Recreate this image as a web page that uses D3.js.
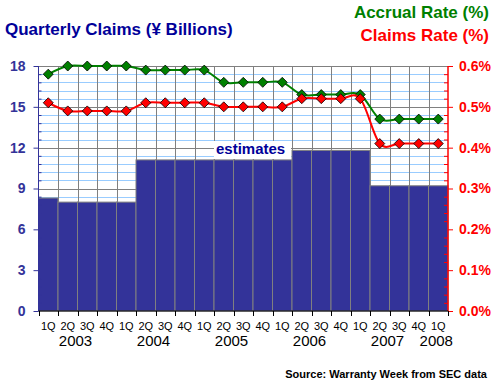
<html>
<head>
<script src="https://d3js.org/d3.v7.min.js"></script>
<style>
  body { margin: 0; background: #fff; }
  text { font-family: Arial, "Liberation Sans", sans-serif; }
</style>
</head>
<body>
<script>
// quarters 1Q2003 .. 1Q2008
const quarters = ["1Q","2Q","3Q","4Q","1Q","2Q","3Q","4Q","1Q","2Q","3Q","4Q","1Q","2Q","3Q","4Q","1Q","2Q","3Q","4Q","1Q"];
const years = ["2003","2004","2005","2006","2007","2008"];
const claims = [8.3,8.0,8.0,8.0,8.0,11.1,11.1,11.1,11.1,11.1,11.1,11.1,11.1,11.8,11.8,11.8,11.8,9.2,9.2,9.2,9.2];
const accrualRate = [0.58,0.60,0.60,0.60,0.60,0.59,0.59,0.59,0.59,0.56,0.56,0.56,0.56,0.53,0.53,0.53,0.53,0.47,0.47,0.47,0.47];
const claimsRate = [0.51,0.49,0.49,0.49,0.49,0.51,0.51,0.51,0.51,0.50,0.50,0.50,0.50,0.52,0.52,0.52,0.52,0.41,0.41,0.41,0.41];
const leftTicks = [0,3,6,9,12,15,18];
const rightTicks = [0,0.1,0.2,0.3,0.4,0.5,0.6];

const W = 500, H = 385;
const plot = {left: 38.5, right: 448, top: 66, bottom: 311};

const svg = d3.select("body").append("svg").attr("width", W).attr("height", H);

const idx = quarters.map((q, i) => i);
const x = d3.scaleBand().domain(idx).range([plot.left, plot.right]).padding(0);
const yL = d3.scaleLinear().domain([0, 18]).range([plot.bottom, plot.top]);
const yR = d3.scaleLinear().domain([0, 0.6]).range([plot.bottom, plot.top]);

// horizontal gridlines: minor light blue, major grey
const minor = d3.range(0, 31).map(d => d * 0.6).filter(d => Math.round(d * 10) % 30 !== 0);
svg.append("g").selectAll("line").data(minor).join("line")
  .attr("x1", plot.left).attr("x2", plot.right)
  .attr("y1", d => Math.round(yL(d)) + 0.5).attr("y2", d => Math.round(yL(d)) + 0.5)
  .attr("stroke", "#99ccff");
svg.append("g").selectAll("line").data(leftTicks.slice(1)).join("line")
  .attr("x1", plot.left).attr("x2", plot.right)
  .attr("y1", d => Math.round(yL(d)) + 0.5).attr("y2", d => Math.round(yL(d)) + 0.5)
  .attr("stroke", "#808080");
// vertical gridlines
svg.append("g").selectAll("line").data(idx.slice(1)).join("line")
  .attr("x1", d => Math.round(x(d)) + 0.5).attr("x2", d => Math.round(x(d)) + 0.5)
  .attr("y1", plot.top).attr("y2", plot.bottom)
  .attr("stroke", "#808080");

// bars
svg.append("g").selectAll("rect").data(claims).join("rect")
  .attr("x", (d, i) => x(i))
  .attr("y", d => yL(d))
  .attr("width", x.bandwidth())
  .attr("height", d => plot.bottom - yL(d))
  .attr("fill", "#333399")
  .attr("stroke", "#808080")
  .attr("stroke-width", 1);

// estimates label
svg.append("rect").attr("x", 214).attr("y", 141).attr("width", 77).attr("height", 18).attr("fill", "#fff");
svg.append("text").attr("x", 216).attr("y", 153.5).text("estimates")
  .attr("font-size", 15).attr("font-weight", "bold").attr("fill", "#000099");

// left axis
const gl = svg.append("g").attr("transform", `translate(${plot.left},0)`);
gl.call(d3.axisLeft(yL).tickValues(leftTicks).tickSize(5).tickPadding(8).tickFormat(d3.format("d")));
gl.append("g").call(d3.axisLeft(yL).tickValues(minor).tickSize(-3).tickFormat(""));
gl.selectAll("path,line").attr("stroke", "#333399");
gl.selectAll("path").attr("d", `M0,${plot.top}V${plot.bottom}`);
gl.selectAll("text").attr("fill", "#333399").attr("font-size", 14).attr("font-weight", "bold")
  .attr("font-family", "Arial, 'Liberation Sans', sans-serif");

// right axis
const gr = svg.append("g").attr("transform", `translate(${plot.right},0)`);
gr.call(d3.axisRight(yR).tickValues(rightTicks).tickSize(5).tickPadding(6).tickFormat(d => d.toFixed(1) + "%"));
gr.append("g").call(d3.axisRight(yR).tickValues(minor.map(d => d / 30)).tickSize(-4).tickFormat(""));
gr.selectAll("path,line").attr("stroke", "#ff0000");
gr.selectAll("path").attr("d", `M0,${plot.top}V${plot.bottom}`);
gr.selectAll("text").attr("fill", "#ff0000").attr("font-size", 14).attr("font-weight", "bold")
  .attr("font-family", "Arial, 'Liberation Sans', sans-serif");

// bottom axis
const gb = svg.append("g").attr("transform", `translate(0,${plot.bottom})`);
gb.append("line").attr("x1", plot.left).attr("x2", plot.right).attr("stroke", "#000");
gb.selectAll("line.t").data(d3.range(0, 22)).join("line").attr("class", "t")
  .attr("x1", d => Math.round(plot.left + d * x.step()) + 0.5).attr("x2", d => Math.round(plot.left + d * x.step()) + 0.5)
  .attr("y1", 0).attr("y2", 5).attr("stroke", "#000");
gb.selectAll("text.q").data(quarters).join("text").attr("class", "q")
  .attr("x", (d, i) => x(i) + x.bandwidth() / 2).attr("y", 19)
  .attr("text-anchor", "middle").attr("font-size", 11).attr("fill", "#000").text(d => d);
gb.selectAll("text.y").data(years).join("text").attr("class", "y")
  .attr("x", (d, i) => {
    const first = i * 4, last = Math.min(first + 3, quarters.length - 1);
    return (x(first) + x(last) + x.bandwidth()) / 2 - 2;
  })
  .attr("y", 35).attr("text-anchor", "middle").attr("font-size", 15).attr("fill", "#000").text(d => d);

// lines
const cx = i => x(i) + x.bandwidth() / 2;
const line = d3.line().x((d, i) => cx(i)).y(d => yR(d)).curve(d3.curveCardinal.tension(0));
const diamond = "M0,-5L5,0L0,5L-5,0Z";
[[accrualRate, "#008000"], [claimsRate, "#ff0000"]].forEach(([vals, col]) => {
  svg.append("path").datum(vals).attr("d", line).attr("fill", "none").attr("stroke", col).attr("stroke-width", 2);
  svg.append("g").selectAll("path").data(vals).join("path")
    .attr("d", diamond)
    .attr("transform", (d, i) => `translate(${cx(i)},${yR(d)})`)
    .attr("fill", col).attr("stroke", "#000").attr("stroke-width", 0.8);
});

// titles
svg.append("text").attr("x", 5).attr("y", 35).text("Quarterly Claims (\u00a5 Billions)")
  .attr("font-size", 17).attr("font-weight", "bold").attr("fill", "#000099");
svg.append("text").attr("x", 489).attr("y", 18).attr("text-anchor", "end").text("Accrual Rate (%)")
  .attr("font-size", 17).attr("font-weight", "bold").attr("fill", "#008000");
svg.append("text").attr("x", 489).attr("y", 41).attr("text-anchor", "end").text("Claims Rate (%)")
  .attr("font-size", 17).attr("font-weight", "bold").attr("fill", "#ff0000");
svg.append("text").attr("x", 487).attr("y", 378).attr("text-anchor", "end").text("Source: Warranty Week from SEC data")
  .attr("font-size", 11).attr("font-weight", "bold").attr("fill", "#000");
</script>
</body>
</html>
